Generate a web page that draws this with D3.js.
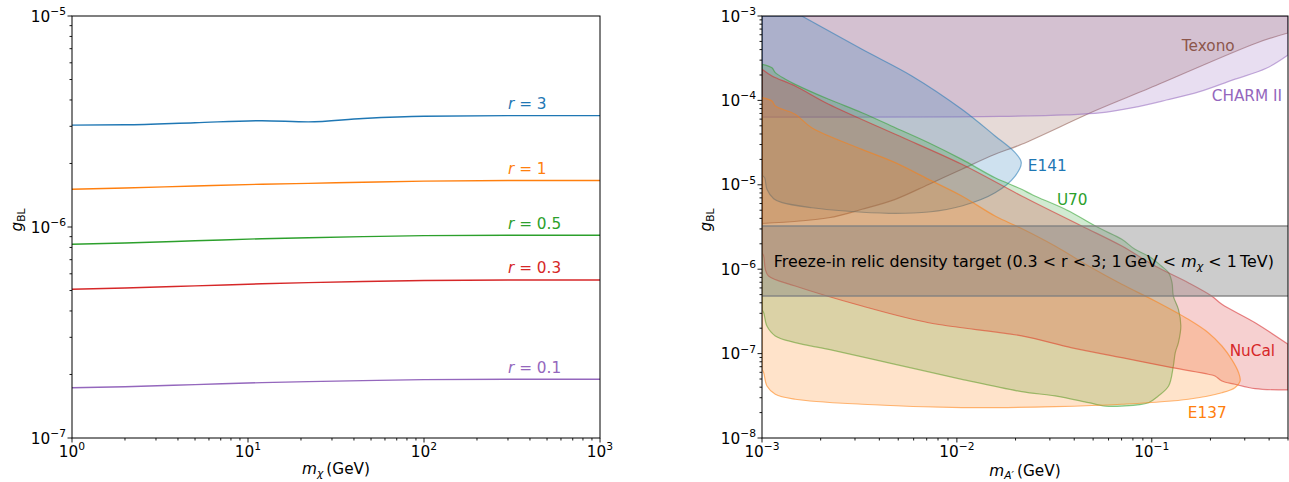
<!DOCTYPE html>
<html><head><meta charset="utf-8">
<script src="https://cdn.jsdelivr.net/npm/d3@7"></script>
<style>
body{margin:0;background:#fff}
svg{display:block}
text{font-family:"DejaVu Sans",sans-serif;}
</style>
</head><body>
<svg id="c" width="1289" height="482"></svg>
<script>
// ---------------- DATA ----------------
// Left panel: freeze-in targets g_BL(m_chi) for several r
const mChi = [1, 2, 5, 12, 22, 45, 100, 300, 1000];
const rNames = ["3", "1", "0.5", "0.3", "0.1"];
const g_r3   = [3.04e-6, 3.05e-6, 3.12e-6, 3.19e-6, 3.15e-6, 3.27e-6, 3.35e-6, 3.37e-6, 3.37e-6];
const g_r1   = [1.51e-6, 1.53e-6, 1.565e-6, 1.595e-6, 1.61e-6, 1.63e-6, 1.65e-6, 1.66e-6, 1.66e-6];
const g_r05  = [8.28e-7, 8.4e-7, 8.6e-7, 8.8e-7, 8.9e-7, 9.0e-7, 9.1e-7, 9.14e-7, 9.14e-7];
const g_r03  = [5.07e-7, 5.14e-7, 5.26e-7, 5.38e-7, 5.45e-7, 5.52e-7, 5.58e-7, 5.61e-7, 5.61e-7];
const g_r01  = [1.73e-7, 1.75e-7, 1.79e-7, 1.83e-7, 1.85e-7, 1.87e-7, 1.89e-7, 1.90e-7, 1.90e-7];
const rLabelMass = 300;

const leftXTicks = [0, 1, 2, 3];      // exponents
const leftYTicks = [-7, -6, -5];
const rightXTicks = [-3, -2, -1];
const rightYTicks = [-8, -7, -6, -5, -4, -3];

// Right panel: excluded regions (m_A' [GeV], g_BL)
const texono = [[1e-3,3.48e-6],[2.2e-3,4.07e-6],[3.26e-3,5.13e-6],[4.83e-3,6.73e-6],[7.16e-3,1.01e-5],[0.0106,1.53e-5],[0.0157,2.30e-5],[0.0215,3.02e-5],[0.0522,7.69e-5],[0.0977,1.40e-4],[0.345,4.79e-4],[0.5,6.29e-4]];
const charm2 = [[1e-3,6.35e-5],[0.01,6.38e-5],[0.0166,6.45e-5],[0.0366,6.75e-5],[0.0541,7.1e-5],[0.08,8.2e-5],[0.119,1.01e-4],[0.176,1.27e-4],[0.261,1.75e-4],[0.387,2.4e-4],[0.5,3.45e-4]];
const e141 = [[1.6e-3,1e-3],[3.26e-3,4.03e-4],[5.87e-3,1.95e-4],[0.0106,7.85e-5],[0.0157,3.79e-5],[0.0199,2.4e-5],[0.0214,1.83e-5],[0.0199,1.27e-5],[0.0157,8.05e-6],[0.0106,5.61e-6],[7.16e-3,4.76e-6],[4.47e-3,4.59e-6],[2.67e-3,4.89e-6],[1.8e-3,5.35e-6],[1.27e-3,6.14e-6],[1.148e-3,6.84e-6],[1.06e-3,8.85e-6],[1.032e-3,1.21e-5],[1e-3,1.3e-5]];
const u70 = [[1e-3,2.68e-4],[1.125e-3,2.44e-4],[1.17e-3,2.13e-4],[1.32e-3,1.78e-4],[1.48e-3,1.55e-4],[2.2e-3,1.03e-4],[3.26e-3,7.15e-5],[4.83e-3,4.75e-5],[7.16e-3,3.15e-5],[0.0106,2.0e-5],[0.0157,1.21e-5],[0.0215,8.85e-6],[0.0245,7.57e-6],[0.0366,5.03e-6],[0.0541,3.05e-6],[0.0702,2.26e-6],[0.082,1.72e-6],[0.0962,1.43e-6],[0.112,1.09e-6],[0.122,9.1e-7],[0.127,6.92e-7],[0.129,4.81e-7],[0.137,3.35e-7],[0.141,2.12e-7],[0.137,1.35e-7],[0.132,1.03e-7],[0.129,7.13e-8],[0.122,4.13e-8],[0.108,3.15e-8],[0.0962,2.62e-8],[0.0702,2.39e-8],[0.0577,2.39e-8],[0.0474,2.62e-8],[0.0319,3.15e-8],[0.0215,3.54e-8],[0.0106,4.96e-8],[4.83e-3,7.47e-8],[2.2e-3,1.12e-7],[1.48e-3,1.35e-7],[1.17e-3,1.62e-7],[1.06e-3,2.12e-7],[1.02e-3,3.05e-7],[1e-3,3.3e-7]];
const nucalTop = [[1e-3,2.34e-4],[1.125e-3,1.95e-4],[1.48e-3,1.48e-4],[2.2e-3,9.0e-5],[4.83e-3,3.97e-5],[0.0106,1.75e-5],[0.0215,7.37e-6],[0.0437,3.25e-6],[0.0702,1.88e-6],[0.104,1.09e-6],[0.154,6.92e-7],[0.203,4.81e-7],[0.229,3.84e-7],[0.339,2.32e-7],[0.5,1.29e-7]];
const nucalBottom = [[0.5,3.71e-8],[0.339,3.84e-8],[0.267,4.33e-8],[0.229,4.73e-8],[0.211,5.43e-8],[0.195,5.69e-8],[0.127,6.81e-8],[0.0702,8.94e-8],[0.0389,1.17e-7],[0.0215,1.62e-7],[7.16e-3,2.32e-7],[3.26e-3,3.66e-7],[1.48e-3,6.32e-7],[1.08e-3,8.3e-7],[1.04e-3,9.97e-7],[1.02e-3,1.43e-6],[1e-3,1.55e-6]];
const e137 = [[1e-3,1.08e-4],[1.125e-3,9.84e-5],[1.17e-3,8.59e-5],[1.48e-3,6.84e-5],[1.8e-3,4.75e-5],[3.26e-3,2.63e-5],[4.83e-3,1.83e-5],[7.16e-3,1.16e-5],[0.0106,7.37e-6],[0.0157,4.27e-6],[0.0215,3.03e-6],[0.0319,1.88e-6],[0.0474,1.09e-6],[0.0702,6.62e-7],[0.104,4.2e-7],[0.154,2.55e-7],[0.195,1.77e-7],[0.229,1.23e-7],[0.257,8.55e-8],[0.279,5.94e-8],[0.284,4.73e-8],[0.267,3.95e-8],[0.229,3.44e-8],[0.154,2.88e-8],[0.0702,2.51e-8],[0.0319,2.35e-8],[0.0106,2.29e-8],[3.26e-3,2.51e-8],[1.48e-3,2.88e-8],[1.17e-3,3.3e-8],[1.06e-3,4.13e-8],[1.02e-3,5.94e-8],[1e-3,6.5e-8]];
const freezeBand = [4.81e-7, 3.25e-6];

const regionNames = ["Texono", "CHARM II", "E141", "U70", "NuCal", "E137"];
const regionLabelMass = [0.1426, 0.203, 0.0231, 0.0326, 0.251, 0.153];
const regionLabelCoupling = [3.85e-4, 9.84e-5, 1.46e-5, 5.77e-6, 9.37e-8, 1.74e-8];
const bandLabelPos = [1.15e-3, 1.06e-6];

// ---------------- STYLE / LAYOUT ----------------
const C = {blue:"#1f77b4", orange:"#ff7f0e", green:"#2ca02c", red:"#d62728", purple:"#9467bd", brown:"#8c564b"};
const lineColors = [C.blue, C.orange, C.green, C.red, C.purple];
const regionColors = [C.brown, C.purple, C.blue, C.green, C.red, C.orange];
const FS = 15.3;
const L = {x0:72, x1:600, y0:16, y1:438};
const R = {x0:762, x1:1288, y0:16, y1:438};

const svg = d3.select("#c");
const xL = d3.scaleLog().domain([1, 1000]).range([L.x0, L.x1]);
const yL = d3.scaleLog().domain([1e-7, 1e-5]).range([L.y1, L.y0]);
const xR = d3.scaleLog().domain([1e-3, 0.5]).range([R.x0, R.x1]);
const yR = d3.scaleLog().domain([1e-8, 1e-3]).range([R.y1, R.y0]);

function minors(domain){
  const [a,b] = domain, out = [];
  for (let e = Math.floor(Math.log10(a)); e <= Math.ceil(Math.log10(b)); e++)
    for (let k = 2; k <= 9; k++){ const v = k*Math.pow(10,e); if (v >= a*0.999 && v <= b*1.001) out.push(v); }
  return out;
}
function powText(sel, e){
  sel.append("tspan").text("10");
  sel.append("tspan").attr("font-size","70%").attr("dy","-0.62em").text(e < 0 ? "\u2212" + (-e) : String(e));
}

function drawAxes(P, xs, ys, xt, yt){
  const g = svg.append("g");
  const addTicks = (vals, len, horiz) => {
    vals.forEach(v => {
      if (horiz){ const x = xs(v); g.append("line").attr("x1",x).attr("x2",x).attr("y1",P.y1).attr("y2",P.y1+len).attr("stroke","#000").attr("stroke-width",0.9); }
      else { const y = ys(v); g.append("line").attr("x1",P.x0-len).attr("x2",P.x0).attr("y1",y).attr("y2",y).attr("stroke","#000").attr("stroke-width",0.9); }
    });
  };
  addTicks(minors(xs.domain()), 2.5, true);
  addTicks(minors(ys.domain()), 2.5, false);
  addTicks(xt.map(e=>Math.pow(10,e)), 4.5, true);
  addTicks(yt.map(e=>Math.pow(10,e)), 4.5, false);
  xt.forEach(e => {
    const t = g.append("text").attr("x", xs(Math.pow(10,e))).attr("y", 457).attr("text-anchor","middle").attr("font-size",FS);
    powText(t, e);
  });
  yt.forEach(e => {
    const t = g.append("text").attr("x", P.x0 - 6).attr("y", ys(Math.pow(10,e)) + 5.6).attr("text-anchor","end").attr("font-size",FS);
    powText(t, e);
  });
  g.append("rect").attr("x",P.x0).attr("y",P.y0).attr("width",P.x1-P.x0).attr("height",P.y1-P.y0)
    .attr("fill","none").attr("stroke","#000").attr("stroke-width",1);
}

// ---------------- LEFT PANEL ----------------
const leftSeries = [g_r3, g_r1, g_r05, g_r03, g_r01];
const lineL = d3.line().x(d=>xL(d[0])).y(d=>yL(d[1])).curve(d3.curveMonotoneX);
leftSeries.forEach((s,i) => {
  const pts = mChi.map((m,j)=>[m, s[j]]);
  svg.append("path").attr("d", lineL(pts)).attr("fill","none").attr("stroke", lineColors[i]).attr("stroke-width",1.4);
  const idx = mChi.findIndex(m=>m>=rLabelMass);
  const gv = s[idx];
  const t = svg.append("text").attr("x", xL(rLabelMass)).attr("y", yL(gv) - 6.5).attr("font-size",FS).attr("fill",lineColors[i]);
  t.append("tspan").attr("font-style","italic").text("r");
  t.append("tspan").text(" = " + rNames[i]);
});
drawAxes(L, xL, yL, leftXTicks, leftYTicks);

// ---------------- RIGHT PANEL ----------------
svg.append("defs").append("clipPath").attr("id","clipR").append("rect")
  .attr("x",R.x0).attr("y",R.y0).attr("width",R.x1-R.x0).attr("height",R.y1-R.y0);
const gR = svg.append("g").attr("clip-path","url(#clipR)");
const curveLine = d3.line().x(d=>xR(d[0])).y(d=>yR(d[1])).curve(d3.curveCatmullRom.alpha(0.5));
function regionPath(pieces){
  let p = "";
  pieces.forEach((pc,i) => {
    if (pc.length === 1){ p += (i===0?"M":"L") + xR(pc[0][0]) + "," + yR(pc[0][1]); }
    else { const s = curveLine(pc); p += (i===0 ? s : "L" + s.slice(1)); }
  });
  return p + "Z";
}
const [dx0, dx1] = xR.domain(), [dy0, dy1] = yR.domain();
const regions = [
  [texono, [[dx1,dy1]], [[dx0,dy1]]],
  [charm2, [[dx1,dy1]], [[dx0,dy1]]],
  [e141, [[dx0,dy1]]],
  [u70],
  [nucalTop, nucalBottom],
  [e137]
];
regions.forEach((pieces,i) => {
  gR.append("path").attr("d", regionPath(pieces))
    .attr("fill", regionColors[i]).attr("fill-opacity",0.22)
    .attr("stroke", regionColors[i]).attr("stroke-opacity",0.55).attr("stroke-width",1.2)
    .attr("stroke-linejoin","round");
});
// freeze-in band
const yb0 = yR(freezeBand[1]), yb1 = yR(freezeBand[0]);
gR.append("rect").attr("x",R.x0).attr("y",yb0).attr("width",R.x1-R.x0).attr("height",yb1-yb0)
  .attr("fill","#808080").attr("fill-opacity",0.4);
[yb0, yb1].forEach(y => gR.append("line").attr("x1",R.x0).attr("x2",R.x1).attr("y1",y).attr("y2",y)
  .attr("stroke","#808080").attr("stroke-width",1.5).attr("stroke-opacity",0.9));

// region labels
regionNames.forEach((n,i) => {
  svg.append("text").attr("x", xR(regionLabelMass[i])).attr("y", yR(regionLabelCoupling[i]))
    .attr("font-size",FS).attr("fill", regionColors[i]).text(n);
});
// band label
{
  const t = svg.append("text").attr("x", xR(bandLabelPos[0])).attr("y", yR(bandLabelPos[1])).attr("font-size",15.9).attr("fill","#000");
  t.append("tspan").text("Freeze-in relic density target (0.3 < r < 3; 1\u2009GeV < ");
  t.append("tspan").attr("font-style","italic").text("m");
  t.append("tspan").attr("font-style","italic").attr("font-size","70%").attr("dy","0.3em").text("\u03c7");
  t.append("tspan").attr("dy","-0.21em").text(" < 1\u2009TeV)");
}
drawAxes(R, xR, yR, rightXTicks, rightYTicks);

// ---------------- AXIS TITLES ----------------
function xTitle(x, y, subParts){
  const t = svg.append("text").attr("x",x).attr("y",y).attr("text-anchor","middle").attr("font-size",FS);
  t.append("tspan").attr("font-style","italic").text("m");
  t.append("tspan").attr("font-style","italic").attr("font-size","70%").attr("dy","0.3em").text(subParts);
  t.append("tspan").attr("dy","-0.21em").text("\u2009(GeV)");
}
xTitle((L.x0+L.x1)/2, 474, "\u03c7");
xTitle((R.x0+R.x1)/2, 476, "A\u2032");
function yTitle(x, y){
  const t = svg.append("text").attr("transform",`translate(${x},${y}) rotate(-90)`).attr("text-anchor","middle").attr("font-size",FS);
  t.append("tspan").attr("font-style","italic").text("g");
  t.append("tspan").attr("font-size","70%").attr("dy","0.3em").text("BL");
}
yTitle(22, 220);
yTitle(711, 220);
</script>
</body></html>
